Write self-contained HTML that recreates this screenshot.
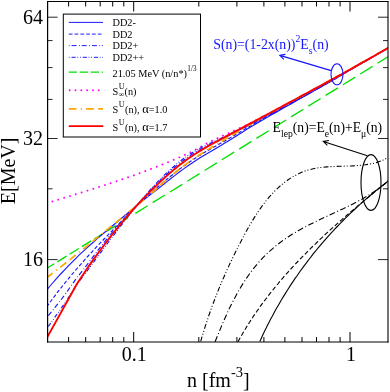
<!DOCTYPE html>
<html><head><meta charset="utf-8"><title>plot</title>
<style>
html,body{margin:0;padding:0;background:#fff;}
body{width:390px;height:392px;overflow:hidden;}
svg{display:block;will-change:transform;font-family:"Liberation Serif",serif;}
text{font-family:"Liberation Serif",serif;}
</style></head><body>
<svg width="390" height="392" viewBox="0 0 390 392">
<defs><clipPath id="pc"><rect x="47.6" y="1.5" width="340.4" height="340.5"/></clipPath></defs>
<rect x="0" y="0" width="390" height="392" fill="#fff"/>
<g clip-path="url(#pc)" fill="none" stroke-linecap="butt" stroke-linejoin="round">
<path d="M45.0,269.5 L131.1,216.1" stroke="#00e000" stroke-width="1.35" stroke-dasharray="10.83 3.65"/>
<path d="M135.4,213.4 L392.0,54.3" stroke="#00e000" stroke-width="1.35" stroke-dasharray="14.47 5.88"/>
<path d="M46.6,203.3 L49.6,202.4 L52.6,201.4 L55.6,200.5 L58.6,199.6 L61.6,198.6 L64.6,197.7 L67.6,196.8 L70.6,195.9 L73.6,194.9 L76.6,194.0 L79.6,193.1 L82.6,192.2 L85.6,191.2 L88.6,190.3 L91.6,189.3 L94.6,188.4 L97.6,187.4 L100.6,186.5 L103.6,185.5 L106.6,184.5 L109.6,183.5 L112.6,182.6 L115.6,181.6 L118.6,180.6 L121.6,179.5 L124.6,178.5 L127.6,177.5 L130.6,176.4 L133.6,175.4 L136.6,174.3 L139.6,173.2 L142.6,172.1 L145.6,171.0 L148.6,169.9 L151.6,168.7 L154.6,167.6 L157.6,166.4 L160.6,165.2 L163.6,164.0 L166.6,162.8 L169.6,161.5 L172.6,160.3 L175.6,159.0 L178.6,157.7 L181.6,156.4 L184.6,155.0 L187.6,153.6 L190.6,152.3 L193.6,150.8 L196.6,149.1 L199.6,147.3 L202.6,145.7 L205.6,144.1 L208.6,142.5 L211.6,141.0 L214.6,139.6 L217.6,138.2 L220.6,136.8 L223.6,135.4 L226.6,134.1 L229.6,132.7 L232.6,131.4 L235.6,130.0 L238.6,128.6 L241.6,127.3 L244.6,125.9 L247.6,124.5 L250.6,123.0 L253.6,121.5 L256.6,120.0 L259.6,118.5 L262.0,117.2" stroke="#ff00ff" stroke-width="1.9" stroke-dasharray="0.01 6.1" stroke-linecap="round"/>
<path d="M46.6,290.1 L49.6,286.5 L52.6,283.0 L55.6,279.6 L58.6,276.2 L61.6,273.0 L64.6,269.8 L67.6,266.6 L70.6,263.6 L73.6,260.6 L76.6,257.6 L79.6,254.7 L82.6,251.9 L85.6,249.1 L88.6,246.4 L91.6,243.7 L94.6,241.0 L97.6,238.4 L100.6,235.8 L103.6,233.2 L106.6,230.7 L109.6,228.2 L112.6,225.7 L115.6,223.2 L118.6,220.7 L121.6,218.2 L124.6,215.8 L127.6,213.3 L130.6,210.8 L133.6,208.2 L136.6,205.6 L137.0,205.3 L140.0,202.9 L143.0,200.4 L146.0,198.0 L149.0,195.7 L152.0,193.4 L155.0,191.1 L158.0,188.8 L161.0,186.4 L164.0,184.0 L167.0,181.6 L170.0,179.3 L173.0,176.9 L176.0,174.6 L179.0,172.3 L182.0,170.1 L185.0,167.9 L188.0,165.8 L191.0,163.7 L194.0,161.7 L197.0,159.7 L200.0,157.8 L203.0,156.0 L206.0,154.2 L209.0,152.5 L212.0,150.8 L215.0,149.0 L218.0,147.2 L221.0,145.4 L224.0,143.6 L227.0,141.8 L230.0,139.9 L233.0,138.1 L236.0,136.2 L239.0,134.3 L242.0,132.4 L245.0,130.5 L248.0,128.6 L251.0,126.8 L254.0,125.1 L257.0,123.3 L260.0,121.5 L263.0,119.8 L266.0,118.0 L269.0,116.3 L272.0,114.6 L275.0,112.9 L278.0,111.2 L281.0,109.5 L284.0,107.8 L287.0,106.1 L290.0,104.4 L293.0,102.7 L296.0,101.0 L299.0,99.3 L302.0,97.6 L305.0,95.9 L308.0,94.2 L311.0,92.5 L314.0,90.8 L317.0,89.1 L320.0,87.4 L323.0,85.7 L326.0,84.0 L329.0,82.3 L332.0,80.6 L335.0,78.9 L338.0,77.1 L341.0,75.3 L344.0,73.5 L347.0,71.7 L350.0,70.0 L353.0,68.2 L356.0,66.5 L359.0,64.8 L362.0,63.1 L365.0,61.4 L368.0,59.6 L371.0,57.9 L374.0,56.2 L377.0,54.5 L380.0,52.7 L383.0,51.0 L386.0,49.3 L388.4,47.9" stroke="#1a1aff" stroke-width="1.15"/>
<path d="M46.6,306.9 L49.6,302.8 L52.6,298.8 L55.6,294.8 L58.6,290.9 L61.6,287.1 L64.6,283.4 L67.6,279.7 L70.6,276.1 L73.6,272.5 L76.6,269.0 L79.6,265.6 L82.6,262.2 L85.6,258.8 L88.6,255.5 L91.6,252.3 L94.6,249.0 L97.6,245.8 L100.6,242.7 L103.6,239.5 L106.6,236.4 L109.6,233.3 L112.6,230.3 L115.6,227.2 L118.6,224.2 L121.6,221.1 L124.6,218.1 L127.6,215.0 L130.6,212.0 L133.6,208.9 L136.6,205.7 L137.0,205.3 L140.0,202.5 L143.0,199.7 L146.0,197.0 L149.0,194.4 L152.0,191.8 L155.0,189.2 L158.0,186.7 L161.0,184.2 L164.0,181.7 L167.0,179.2 L170.0,176.8 L173.0,174.4 L176.0,172.0 L179.0,169.6 L182.0,167.4 L185.0,165.2 L188.0,163.1 L191.0,161.0 L194.0,159.0 L197.0,157.0 L200.0,155.2 L203.0,153.4 L206.0,151.6 L209.0,149.9 L212.0,148.2 L215.0,146.5 L218.0,144.8 L221.0,143.1 L224.0,141.4 L227.0,139.7 L230.0,137.9 L233.0,136.2 L236.0,134.4 L239.0,132.7 L242.0,130.9 L245.0,129.1 L248.0,127.4 L251.0,125.7 L254.0,124.0 L257.0,122.3 L260.0,120.6 L263.0,118.9 L266.0,117.3 L269.0,115.6 L272.0,113.9 L275.0,112.3 L278.0,110.6 L281.0,108.9 L284.0,107.3 L287.0,105.6 L290.0,104.0 L293.0,102.3 L296.0,100.6 L299.0,99.0 L302.0,97.3 L305.0,95.6 L308.0,94.0 L311.0,92.3 L314.0,90.6 L317.0,89.0 L320.0,87.3 L323.0,85.6 L326.0,83.9 L329.0,82.2 L332.0,80.5 L335.0,78.8 L338.0,77.0 L341.0,75.2 L344.0,73.5 L347.0,71.7 L350.0,70.0 L353.0,68.2 L356.0,66.5 L359.0,64.8 L362.0,63.1 L365.0,61.4 L368.0,59.7 L371.0,57.9 L374.0,56.2 L377.0,54.5 L380.0,52.7 L383.0,51.0 L386.0,49.3 L388.4,47.9" stroke="#1a1aff" stroke-width="1.15" stroke-dasharray="3.7 2.1"/>
<path d="M46.6,317.9 L49.6,314.2 L52.6,310.4 L55.6,306.7 L58.6,302.9 L61.6,299.0 L64.6,295.0 L67.6,290.8 L70.6,286.5 L73.6,282.3 L76.6,278.1 L79.6,274.4 L82.6,270.6 L85.6,266.7 L88.6,262.7 L91.6,258.8 L94.6,254.8 L97.6,250.8 L100.6,246.9 L103.6,243.1 L106.6,239.3 L109.6,235.6 L112.6,232.0 L115.6,228.4 L118.6,224.9 L121.6,221.6 L124.6,218.3 L127.6,215.0 L130.6,211.8 L133.6,208.7 L136.6,205.7 L137.0,205.3 L140.0,201.9 L143.0,198.5 L146.0,195.2 L149.0,192.0 L152.0,188.8 L155.0,185.6 L158.0,182.6 L161.0,179.6 L164.0,176.8 L167.0,174.0 L170.0,171.2 L173.0,168.6 L176.0,166.1 L179.0,163.7 L182.0,161.4 L185.0,159.2 L188.0,157.1 L191.0,155.1 L194.0,153.2 L197.0,151.4 L200.0,149.7 L203.0,148.1 L206.0,146.5 L209.0,145.0 L212.0,143.5 L215.0,142.1 L218.0,140.7 L221.0,139.2 L224.0,137.8 L227.0,136.4 L230.0,134.9 L233.0,133.5 L236.0,132.0 L239.0,130.6 L242.0,129.1 L245.0,127.6 L248.0,126.1 L251.0,124.5 L254.0,123.0 L257.0,121.4 L260.0,119.8 L263.0,118.2 L266.0,116.7 L269.0,115.1 L272.0,113.5 L275.0,111.9 L278.0,110.3 L281.0,108.6 L284.0,107.0 L287.0,105.4 L290.0,103.8 L293.0,102.1 L296.0,100.5 L299.0,98.9 L302.0,97.2 L305.0,95.6 L308.0,93.9 L311.0,92.3 L314.0,90.6 L317.0,88.9 L320.0,87.3 L323.0,85.6 L326.0,83.9 L329.0,82.2 L332.0,80.5 L335.0,78.8 L338.0,77.0 L341.0,75.3 L344.0,73.5 L347.0,71.7 L350.0,70.0 L353.0,68.2 L356.0,66.5 L359.0,64.8 L362.0,63.1 L365.0,61.4 L368.0,59.7 L371.0,57.9 L374.0,56.2 L377.0,54.5 L380.0,52.7 L383.0,51.0 L386.0,49.3 L388.4,47.9" stroke="#1a1aff" stroke-width="1.15" stroke-dasharray="4.9 2.5 0.8 2.0" stroke-dashoffset="7.4"/>
<path d="M46.6,328.7 L49.6,324.6 L52.6,320.5 L55.6,316.2 L58.6,312.0 L61.6,307.7 L64.6,303.4 L67.6,298.9 L70.6,294.3 L73.6,289.5 L76.6,284.7 L79.6,280.7 L82.6,276.9 L85.6,273.0 L88.6,269.0 L91.6,265.0 L94.6,260.9 L97.6,256.8 L100.6,252.7 L103.6,248.7 L106.6,244.6 L109.6,240.6 L112.6,236.6 L115.6,232.7 L118.6,228.8 L121.6,224.9 L124.6,221.0 L127.6,217.2 L130.6,213.4 L133.6,209.6 L136.6,205.8 L137.0,205.3 L140.0,201.7 L143.0,198.1 L146.0,194.6 L149.0,191.2 L152.0,187.9 L155.0,184.6 L158.0,181.4 L161.0,178.4 L164.0,175.4 L167.0,172.5 L170.0,169.7 L173.0,167.1 L176.0,164.5 L179.0,162.1 L182.0,159.8 L185.0,157.6 L188.0,155.5 L191.0,153.5 L194.0,151.6 L197.0,149.9 L200.0,148.3 L203.0,146.7 L206.0,145.3 L209.0,143.8 L212.0,142.4 L215.0,141.0 L218.0,139.6 L221.0,138.2 L224.0,136.8 L227.0,135.4 L230.0,134.0 L233.0,132.6 L236.0,131.2 L239.0,129.8 L242.0,128.4 L245.0,127.0 L248.0,125.5 L251.0,124.0 L254.0,122.5 L257.0,121.0 L260.0,119.5 L263.0,117.9 L266.0,116.4 L269.0,114.8 L272.0,113.3 L275.0,111.7 L278.0,110.1 L281.0,108.5 L284.0,106.8 L287.0,105.2 L290.0,103.6 L293.0,102.0 L296.0,100.4 L299.0,98.8 L302.0,97.1 L305.0,95.5 L308.0,93.9 L311.0,92.2 L314.0,90.6 L317.0,88.9 L320.0,87.2 L323.0,85.5 L326.0,83.9 L329.0,82.2 L332.0,80.5 L335.0,78.8 L338.0,77.0 L341.0,75.3 L344.0,73.5 L347.0,71.7 L350.0,70.0 L353.0,68.2 L356.0,66.5 L359.0,64.8 L362.0,63.1 L365.0,61.4 L368.0,59.7 L371.0,57.9 L374.0,56.2 L377.0,54.5 L380.0,52.7 L383.0,51.0 L386.0,49.3 L388.4,47.9" stroke="#1a1aff" stroke-width="1.15" stroke-dasharray="4.2 1.7 0.8 1.8 0.8 1.9" stroke-dashoffset="8.5"/>
<path d="M46.6,277.8 L49.6,275.5 L52.6,273.2 L55.6,270.9 L58.6,268.5 L61.6,266.2 L64.6,263.8 L67.6,261.5 L70.6,259.1 L73.6,256.7 L76.6,254.3 L79.6,251.9 L82.6,249.5 L85.6,247.1 L88.6,244.7 L91.6,242.2 L94.6,239.8 L97.6,237.4 L100.6,235.0 L103.6,232.6 L106.6,230.1 L109.6,227.7 L112.6,225.3 L115.6,222.8 L118.6,220.4 L121.6,218.0 L124.6,215.5 L127.6,213.1 L130.6,210.6 L133.6,208.1 L136.6,205.6 L137.0,205.3 L140.0,202.8 L143.0,200.3 L146.0,197.7 L149.0,195.2 L152.0,192.6 L155.0,190.0 L158.0,187.4 L161.0,184.7 L164.0,182.1 L167.0,179.5 L170.0,176.9 L173.0,174.4 L176.0,171.9 L179.0,169.5 L182.0,167.2 L185.0,164.9 L188.0,162.7 L191.0,160.6 L194.0,158.5 L197.0,156.5 L200.0,154.5 L203.0,152.6 L206.0,150.8 L209.0,148.9 L212.0,147.1 L215.0,145.3 L218.0,143.5 L221.0,141.7 L224.0,139.9 L227.0,138.1 L230.0,136.3 L233.0,134.6 L236.0,132.8 L239.0,131.0 L242.0,129.2 L245.0,127.4 L248.0,125.7 L251.0,124.0 L254.0,122.3 L257.0,120.5 L260.0,118.8 L263.0,117.1 L266.0,115.5 L269.0,113.8 L272.0,112.1 L275.0,110.5 L278.0,108.8 L281.0,107.2 L284.0,105.5 L287.0,103.9 L290.0,102.3 L293.0,100.6 L296.0,99.0 L299.0,97.4 L302.0,95.7 L305.0,94.1 L308.0,92.5 L311.0,90.9 L314.0,89.2 L317.0,87.6 L320.0,86.0 L323.0,84.3 L326.0,82.7 L329.0,81.1 L332.0,79.4 L335.0,77.8 L338.0,76.1 L341.0,74.5 L344.0,72.8 L347.0,71.1 L350.0,69.5 L353.0,67.8 L356.0,66.1 L359.0,64.4 L362.0,62.7 L365.0,61.1 L368.0,59.4 L371.0,57.7 L374.0,56.0 L377.0,54.2 L380.0,52.5 L383.0,50.8 L386.0,49.1 L388.4,47.7" stroke="#ffa500" stroke-width="1.7" stroke-dasharray="7.7 4.3 1.2 4.1 7.7 4.3"/>
<path d="M46.6,338.3 L77.0,283.8 L80.0,279.2 L83.0,274.7 L86.0,270.3 L89.0,265.9 L92.0,261.6 L95.0,257.4 L98.0,253.3 L101.0,249.2 L104.0,245.2 L107.0,241.2 L110.0,237.3 L113.0,233.5 L116.0,229.8 L119.0,226.1 L122.0,222.5 L125.0,218.9 L128.0,215.4 L131.0,212.0 L134.0,208.6 L137.0,205.3 L140.0,202.1 L143.0,198.9 L146.0,195.8 L149.0,192.7 L152.0,189.7 L155.0,186.8 L158.0,183.9 L161.0,181.1 L164.0,178.3 L167.0,175.6 L170.0,173.0 L173.0,170.4 L176.0,167.9 L179.0,165.5 L182.0,163.2 L185.0,160.9 L188.0,158.8 L191.0,156.7 L194.0,154.7 L197.0,152.8 L200.0,150.9 L203.0,149.1 L206.0,147.4 L209.0,145.7 L212.0,144.0 L215.0,142.4 L218.0,140.8 L221.0,139.2 L224.0,137.6 L227.0,135.9 L230.0,134.3 L233.0,132.7 L236.0,131.1 L239.0,129.5 L242.0,127.9 L245.0,126.3 L248.0,124.7 L251.0,123.1 L254.0,121.5 L257.0,119.9 L260.0,118.3 L263.0,116.7 L266.0,115.1 L269.0,113.5 L272.0,111.9 L275.0,110.3 L278.0,108.7 L281.0,107.1 L284.0,105.4 L287.0,103.8 L290.0,102.2 L293.0,100.6 L296.0,99.0 L299.0,97.4 L302.0,95.7 L305.0,94.1 L308.0,92.5 L311.0,90.9 L314.0,89.2 L317.0,87.6 L320.0,86.0 L323.0,84.3 L326.0,82.7 L329.0,81.1 L332.0,79.4 L335.0,77.8 L338.0,76.1 L341.0,74.5 L344.0,72.8 L347.0,71.1 L350.0,69.5 L353.0,67.8 L356.0,66.1 L359.0,64.4 L362.0,62.7 L365.0,61.1 L368.0,59.4 L371.0,57.7 L374.0,56.0 L377.0,54.2 L380.0,52.5 L383.0,50.8 L386.0,49.1 L388.4,47.7" stroke="#ff0000" stroke-width="1.9"/>
<path d="M200.7,341.4 L201.9,337.2 L203.2,333.1 L204.4,329.0 L205.7,324.9 L207.1,320.8 L208.4,316.8 L209.8,312.8 L211.2,308.9 L212.6,304.9 L214.1,301.0 L215.6,297.1 L217.1,293.3 L218.6,289.4 L220.2,285.6 L221.8,281.8 L223.5,278.0 L225.1,274.2 L226.8,270.4 L228.5,266.6 L230.3,262.8 L232.1,259.1 L233.9,255.3 L235.8,251.5 L237.7,247.7 L239.6,244.0 L241.6,240.2 L243.6,236.4 L245.6,232.6 L247.7,228.8 L249.8,225.1 L252.0,221.3 L254.3,217.6 L256.6,214.0 L259.0,210.4 L261.5,206.9 L264.0,203.5 L266.6,200.1 L269.3,196.9 L272.2,193.7 L275.1,190.7 L278.1,187.8 L281.2,185.1 L284.4,182.5 L287.8,180.0 L291.3,177.7 L294.9,175.6 L298.6,173.7 L302.3,172.1 L306.2,170.6 L310.2,169.5 L314.3,168.5 L318.4,167.8 L322.6,167.3 L326.8,166.9 L331.0,166.6 L335.3,166.4 L339.6,166.3 L343.9,166.2 L348.2,166.0 L352.5,165.9 L356.7,165.6 L361.0,165.3 L365.1,164.8 L369.2,164.2 L373.2,163.4 L377.2,162.3 L381.0,161.0 L384.8,159.3 L388.4,157.3" stroke="#000" stroke-width="1.1" stroke-dasharray="5.0 2.0 1.0 2.0 1.0 2.2"/>
<path d="M215.1,341.8 L216.4,338.5 L217.8,335.2 L219.1,331.9 L220.5,328.6 L221.8,325.3 L223.3,322.0 L224.7,318.7 L226.2,315.4 L227.7,312.1 L229.2,308.8 L230.8,305.6 L232.4,302.4 L234.1,299.2 L235.8,296.0 L237.5,292.8 L239.3,289.7 L241.1,286.6 L243.0,283.6 L244.9,280.6 L246.9,277.6 L248.9,274.7 L251.0,271.8 L253.1,269.0 L255.3,266.3 L257.6,263.6 L259.9,260.9 L262.3,258.4 L264.7,255.9 L267.2,253.4 L269.8,251.1 L272.4,248.8 L275.0,246.5 L277.8,244.3 L280.5,242.2 L283.4,240.1 L286.2,238.1 L289.2,236.2 L292.1,234.3 L295.2,232.5 L298.2,230.7 L301.3,229.0 L304.4,227.3 L307.6,225.7 L310.8,224.0 L314.0,222.5 L317.2,220.9 L320.5,219.3 L323.7,217.8 L327.0,216.3 L330.2,214.8 L333.5,213.3 L336.8,211.7 L340.0,210.2 L343.3,208.7 L346.5,207.1 L349.7,205.5 L352.9,203.9 L356.1,202.3 L359.2,200.6 L362.3,198.9 L365.4,197.1 L368.4,195.3 L371.4,193.4 L374.4,191.5 L377.3,189.5 L380.1,187.4 L382.9,185.3 L385.6,183.0 L388.3,180.7" stroke="#000" stroke-width="1.1" stroke-dasharray="5.9 2.5 1.0 2.4"/>
<path d="M238.0,341.7 L239.6,338.8 L241.2,336.0 L242.8,333.2 L244.5,330.4 L246.1,327.7 L247.8,324.9 L249.6,322.2 L251.3,319.5 L253.1,316.8 L254.9,314.1 L256.7,311.5 L258.6,308.9 L260.4,306.2 L262.3,303.7 L264.2,301.1 L266.2,298.5 L268.1,296.0 L270.1,293.4 L272.1,290.9 L274.1,288.4 L276.1,286.0 L278.2,283.5 L280.2,281.0 L282.3,278.6 L284.4,276.2 L286.5,273.8 L288.7,271.4 L290.8,269.0 L293.0,266.7 L295.2,264.3 L297.4,262.0 L299.6,259.7 L301.8,257.3 L304.1,255.1 L306.3,252.8 L308.6,250.5 L310.9,248.2 L313.2,246.0 L315.5,243.8 L317.8,241.5 L320.1,239.3 L322.5,237.1 L324.8,234.9 L327.2,232.7 L329.5,230.6 L331.9,228.4 L334.3,226.3 L336.7,224.1 L339.1,222.0 L341.6,219.9 L344.0,217.7 L346.4,215.6 L348.9,213.5 L351.3,211.4 L353.7,209.4 L356.2,207.3 L358.7,205.2 L361.1,203.2 L363.6,201.1 L366.1,199.0 L368.6,197.0 L371.1,195.0 L373.5,192.9 L376.0,190.9 L378.5,188.9 L381.0,186.9 L383.5,184.9 L386.0,182.9 L388.5,180.9" stroke="#000" stroke-width="1.1" stroke-dasharray="4.5 2.4"/>
<path d="M259.8,341.5 L261.1,338.7 L262.3,336.0 L263.6,333.3 L264.9,330.5 L266.3,327.8 L267.6,325.1 L269.0,322.4 L270.3,319.8 L271.8,317.1 L273.2,314.4 L274.6,311.8 L276.1,309.1 L277.6,306.5 L279.1,303.9 L280.6,301.3 L282.1,298.7 L283.7,296.1 L285.3,293.6 L286.9,291.0 L288.5,288.5 L290.1,285.9 L291.8,283.4 L293.5,280.9 L295.1,278.4 L296.9,276.0 L298.6,273.5 L300.3,271.0 L302.1,268.6 L303.9,266.2 L305.7,263.8 L307.5,261.4 L309.3,259.0 L311.2,256.6 L313.0,254.2 L314.9,251.9 L316.8,249.5 L318.8,247.2 L320.7,244.9 L322.6,242.6 L324.6,240.4 L326.6,238.1 L328.6,235.8 L330.6,233.6 L332.7,231.4 L334.7,229.2 L336.8,227.0 L338.9,224.8 L341.0,222.7 L343.1,220.5 L345.2,218.4 L347.4,216.3 L349.5,214.2 L351.7,212.1 L353.9,210.0 L356.1,208.0 L358.3,205.9 L360.6,203.9 L362.8,201.9 L365.1,199.9 L367.4,197.9 L369.7,196.0 L372.0,194.0 L374.3,192.1 L376.6,190.2 L379.0,188.3 L381.3,186.4 L383.7,184.6 L386.1,182.7 L388.5,180.9" stroke="#000" stroke-width="1.1"/>
</g>
<!-- frame -->
<path d="M47.6,1.0 V342.5" stroke="#000" stroke-width="1.2" fill="none"/>
<path d="M47.0,1.5 H388.5" stroke="#000" stroke-width="1.05" fill="none"/>
<path d="M388.0,1.0 V342.5" stroke="#000" stroke-width="1.1" fill="none"/>
<path d="M47.0,342.0 H388.5" stroke="#000" stroke-width="1.1" fill="none"/>
<path d="M68.6,342.0 v-5 M68.6,1.5 v5 M85.7,342.0 v-5 M85.7,1.5 v5 M100.2,342.0 v-5 M100.2,1.5 v5 M112.7,342.0 v-5 M112.7,1.5 v5 M123.8,342.0 v-5 M123.8,1.5 v5 M198.8,342.0 v-5 M198.8,1.5 v5 M236.9,342.0 v-5 M236.9,1.5 v5 M263.9,342.0 v-5 M263.9,1.5 v5 M284.9,342.0 v-5 M284.9,1.5 v5 M302.0,342.0 v-5 M302.0,1.5 v5 M316.5,342.0 v-5 M316.5,1.5 v5 M329.0,342.0 v-5 M329.0,1.5 v5 M340.1,342.0 v-5 M340.1,1.5 v5 M133.7,342.0 v-10 M133.7,1.5 v10 M350.0,342.0 v-10 M350.0,1.5 v10" stroke="#000" stroke-width="1" fill="none"/>
<path d="M47.6,188.8 h5 M388.0,188.8 h-5 M47.6,99.4 h5 M388.0,99.4 h-5 M47.6,67.6 h5 M388.0,67.6 h-5 M47.6,40.6 h5 M388.0,40.6 h-5 M47.6,259.6 h10 M388.0,259.6 h-10 M47.6,138.5 h10 M388.0,138.5 h-10 M47.6,17.2 h10 M388.0,17.2 h-10" stroke="#000" stroke-width="0.85" fill="none"/>
<!-- tick labels -->
<g font-size="20" fill="#000">
<text x="42.9" y="24.3" text-anchor="end">64</text>
<text x="42.9" y="144.5" text-anchor="end">32</text>
<text x="42.9" y="266.4" text-anchor="end">16</text>
<text x="134.3" y="360.8" text-anchor="middle">0.1</text>
<text x="351" y="360.8" text-anchor="middle">1</text>
<text x="187" y="387">n [fm<tspan font-size="14.5" dy="-9.6">-3</tspan><tspan dy="9.6">]</tspan></text>
<text transform="translate(14.6,204.2) rotate(-90)">E[MeV]</text>
</g>
<!-- legend -->
<rect x="63.3" y="14.1" width="137.2" height="122.9" fill="#fff" stroke="#000" stroke-width="1"/>
<g fill="none">
<path d="M68.8,22.4 H103" stroke="#1a1aff" stroke-width="1"/>
<path d="M68.8,34.1 H103" stroke="#1a1aff" stroke-width="1" stroke-dasharray="3.7 2.1"/>
<path d="M68.8,45.6 H103" stroke="#1a1aff" stroke-width="1" stroke-dasharray="4.9 2.5 0.8 2.0" stroke-dashoffset="7.4"/>
<path d="M68.8,57.3 H103" stroke="#1a1aff" stroke-width="1" stroke-dasharray="4.2 1.7 0.8 1.8 0.8 1.9" stroke-dashoffset="8.5"/>
<path d="M68.8,72.1 H103" stroke="#00e000" stroke-width="1.35" stroke-dasharray="8.2 2.8"/>
<path d="M69.7,90.3 H99.5" stroke="#ff00ff" stroke-width="1.9" stroke-dasharray="0.01 5.8" stroke-linecap="round"/>
<path d="M68.8,108.9 H103" stroke="#ffa500" stroke-width="1.7" stroke-dasharray="7.7 4.3 1.2 4.1 7.7 4.3"/>
<path d="M68.8,126.1 H103.3" stroke="#ff0000" stroke-width="1.9"/>
</g>
<g font-size="10.3" fill="#000">
<text x="112.5" y="26">DD2-</text>
<text x="112.5" y="37.6">DD2</text>
<text x="112.5" y="49.3">DD2+</text>
<text x="112.5" y="61">DD2++</text>
<text x="112.5" y="76.6">21.05 MeV (n/n*)<tspan font-size="7.2" dy="-5.8" dx="0.4">1/3</tspan></text>
<text x="112.5" y="94.6">S<tspan font-size="8" dy="-5.6" dx="0.5">U</tspan><tspan font-size="8" dy="8.2" dx="-5.9">∞</tspan><tspan dy="-2.6" dx="0.2">(n)</tspan></text>
<text x="112.5" y="112.7">S<tspan font-size="8" dy="-5.6" dx="0.5">U</tspan><tspan dy="5.6" dx="0.5">(n), </tspan><tspan font-size="12.5">α</tspan>=1.0</text>
<text x="112.5" y="130.5">S<tspan font-size="8" dy="-5.6" dx="0.5">U</tspan><tspan dy="5.6" dx="0.5">(n), </tspan><tspan font-size="12.5">α</tspan>=1.7</text>
</g>
<!-- blue annotation -->
<text x="213.3" y="48.8" font-size="13.8" fill="#1414ff">S(n)=(1-2x(n))<tspan font-size="9.8" dy="-6.4">2</tspan><tspan dy="6.4">E</tspan><tspan font-size="9.8" dy="5.2">s</tspan><tspan dy="-5.2">(n)</tspan></text>
<g stroke="#1414ff" stroke-width="1.1" fill="none">
<ellipse cx="337" cy="74.3" rx="6" ry="10.5"/>
<path d="M331.2,70.6 L279.8,55.4 M285.4,54.4 L279.8,55.4 L283.9,59.3"/>
</g>
<!-- black annotation -->
<text x="272.6" y="131.7" font-size="13.65" fill="#000">E<tspan font-size="9.7" dy="5.2">lep</tspan><tspan dy="-5.2">(n)=E</tspan><tspan font-size="9.7" dy="5.2">e</tspan><tspan dy="-5.2">(n)+E</tspan><tspan font-size="9.7" dy="5.2">μ</tspan><tspan dy="-5.2">(n)</tspan></text>
<g stroke="#000" stroke-width="1.1" fill="none">
<ellipse cx="371" cy="182.5" rx="10" ry="27.9"/>
<path d="M367.4,155.8 L323.3,141.4 M328.9,140.5 L323.3,141.4 L327.3,145.4"/>
</g>
</svg>
</body></html>
